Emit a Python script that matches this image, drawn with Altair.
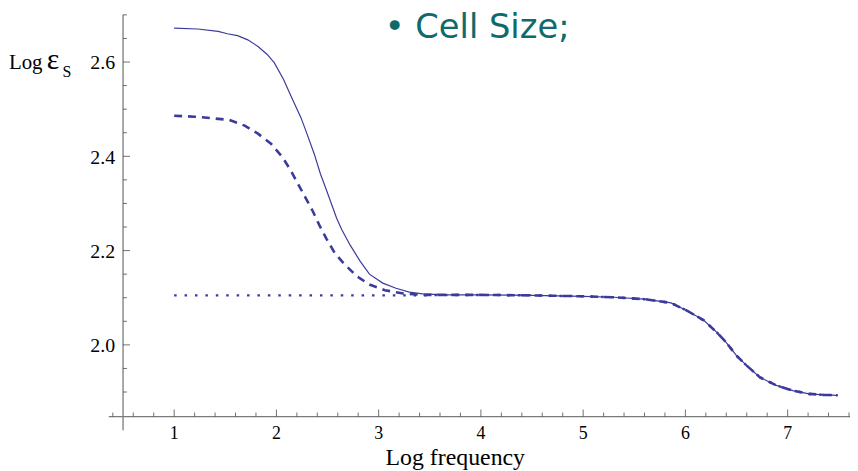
import altair as alt
import pandas as pd

# ---- data ----
freq_solid = [1.0, 1.23, 1.43, 1.52, 1.62, 1.72, 1.82, 1.91, 1.98, 2.07, 2.15, 2.24, 2.30,
              2.37, 2.43, 2.49, 2.59, 2.64, 2.72, 2.82, 2.91, 3.04, 3.17, 3.30, 3.43]
eps_solid = [2.672, 2.670, 2.665, 2.660, 2.656, 2.647, 2.633, 2.616, 2.598, 2.563, 2.524, 2.482, 2.447,
             2.405, 2.363, 2.328, 2.268, 2.244, 2.212, 2.177, 2.150, 2.131, 2.120, 2.112, 2.108]

freq_dashed = [1.0, 1.20, 1.36, 1.54, 1.69, 1.82, 1.95, 2.06, 2.14, 2.21, 2.28, 2.35, 2.42,
               2.49, 2.57, 2.67, 2.79, 2.91, 3.06, 3.24, 3.43]
eps_dashed = [2.486, 2.484, 2.481, 2.477, 2.465, 2.448, 2.426, 2.398, 2.370, 2.342, 2.314, 2.286, 2.254,
              2.225, 2.195, 2.170, 2.145, 2.128, 2.116, 2.109, 2.106]

freq_dotted = [1.0, 2.0, 3.0, 3.43]
eps_dotted = [2.105, 2.105, 2.105, 2.105]

freq_tail = [3.66, 4.0, 4.5, 5.0, 5.3, 5.6, 5.86, 6.02, 6.18, 6.31, 6.40, 6.50, 6.60, 6.73,
             6.89, 7.05, 7.21, 7.35, 7.49]
eps_tail = [2.106, 2.106, 2.105, 2.103, 2.101, 2.097, 2.089, 2.072, 2.052, 2.026, 2.005, 1.977, 1.956, 1.931,
            1.914, 1.903, 1.896, 1.894, 1.893]

x_major = [1, 2, 3, 4, 5, 6, 7]
x_labels = ["1", "2", "3", "4", "5", "6", "7"]
x_minor = [0.4, 0.6, 0.8, 1.2, 1.4, 1.6, 1.8, 2.2, 2.4, 2.6, 2.8, 3.2, 3.4, 3.6, 3.8,
           4.2, 4.4, 4.6, 4.8, 5.2, 5.4, 5.6, 5.8, 6.2, 6.4, 6.6, 6.8, 7.2, 7.4, 7.6]
y_major = [2.0, 2.2, 2.4, 2.6]
y_labels = ["2.0", "2.2", "2.4", "2.6"]
y_minor = [1.90, 1.95, 2.05, 2.10, 2.15, 2.25, 2.30, 2.35, 2.45, 2.50, 2.55, 2.65, 2.70]

title_text = "• Cell Size;"
x_title = "Log frequency"

X_MIN, X_MAX = 0.5, 7.61
Y_MIN, Y_MAX = 1.848, 2.70
W, H = 733, 405

LINE = "#3b3b9c"
AXIS = "#7a7a7a"
TICK = "#333333"
SERIF = "Liberation Serif"

def series(name, xs, ys):
    return pd.DataFrame({"f": xs + freq_tail, "e": ys + eps_tail, "s": name})

df = pd.concat([series("solid", freq_solid, eps_solid),
                series("dashed", freq_dashed, eps_dashed),
                series("dotted", freq_dotted, eps_dotted)], ignore_index=True)

xs = alt.Scale(domain=[X_MIN, X_MAX], nice=False, zero=False)
ys = alt.Scale(domain=[Y_MIN, Y_MAX], nice=False, zero=False)

def X(field="f:Q"):
    return alt.X(field, scale=xs, axis=None)

def Y(field="e:Q"):
    return alt.Y(field, scale=ys, axis=None)

base = alt.Chart(df)

solid = base.transform_filter(alt.datum.s == "solid").mark_line(
    color=LINE, strokeWidth=1.2).encode(x=X(), y=Y(), order="f:Q")
dashed = base.transform_filter(alt.datum.s == "dashed").mark_line(
    color=LINE, strokeWidth=2.6, strokeDash=[8, 6]).encode(x=X(), y=Y(), order="f:Q")
dotted = base.transform_filter(alt.datum.s == "dotted").mark_line(
    color=LINE, strokeWidth=2.5, strokeDash=[2.5, 8]).encode(x=X(), y=Y(), order="f:Q")

# axis lines (Mathematica-style, extending past the crossing point)
xline = alt.Chart(pd.DataFrame({"f": [0.36], "f2": [X_MAX], "e": [Y_MIN]})).mark_rule(
    color=AXIS, strokeWidth=1.3).encode(x=X(), x2="f2:Q", y=Y())
yline = alt.Chart(pd.DataFrame({"f": [X_MIN], "e": [1.819], "e2": [Y_MAX]})).mark_rule(
    color=AXIS, strokeWidth=1.3).encode(x=X(), y=Y(), y2="e2:Q")

# inward ticks
xt_major = alt.Chart(pd.DataFrame({"f": x_major, "e": Y_MIN})).mark_tick(
    orient="vertical", size=7, thickness=1, yOffset=-3.5, color=TICK).encode(x=X(), y=Y())
xt_minor = alt.Chart(pd.DataFrame({"f": x_minor, "e": Y_MIN})).mark_tick(
    orient="vertical", size=4, thickness=1, yOffset=-2, color=TICK).encode(x=X(), y=Y())
yt_major = alt.Chart(pd.DataFrame({"f": X_MIN, "e": y_major})).mark_tick(
    orient="horizontal", size=7, thickness=1, xOffset=3.5, color=TICK).encode(x=X(), y=Y())
yt_minor = alt.Chart(pd.DataFrame({"f": X_MIN, "e": y_minor})).mark_tick(
    orient="horizontal", size=4, thickness=1, xOffset=2, color=TICK).encode(x=X(), y=Y())

# tick labels
x_lab = alt.Chart(pd.DataFrame({"f": x_major, "e": Y_MIN, "t": x_labels})).mark_text(
    font=SERIF, fontSize=18, align="center", baseline="alphabetic", dy=23, color="black").encode(
    x=X(), y=Y(), text="t:N")
y_lab = alt.Chart(pd.DataFrame({"f": X_MIN, "e": y_major, "t": y_labels})).mark_text(
    font=SERIF, fontSize=20, align="right", baseline="middle", dx=-8, dy=1.5, color="black").encode(
    x=X(), y=Y(), text="t:N")

one = pd.DataFrame({"t": [0]})
xtitle = alt.Chart(one).mark_text(text=x_title, font=SERIF, fontSize=24, align="center",
                                  baseline="alphabetic", color="black").encode(
    x=alt.value(335), y=alt.value(454))
lbl_log = alt.Chart(one).mark_text(text="Log", font=SERIF, fontSize=21, align="left",
                                   baseline="alphabetic", color="black").encode(
    x=alt.value(-115), y=alt.value(55))
lbl_eps = alt.Chart(one).mark_text(text="ε", font=SERIF, fontSize=30, align="left",
                                   baseline="alphabetic", color="black").encode(
    x=alt.value(-77), y=alt.value(55))
lbl_s = alt.Chart(one).mark_text(text="S", font=SERIF, fontSize=16, align="left",
                                 baseline="alphabetic", color="black").encode(
    x=alt.value(-61), y=alt.value(63))
title = alt.Chart(one).mark_text(text=title_text, font="DejaVu Sans", fontSize=34, align="center",
                                 baseline="alphabetic", color="#0f6b6b").encode(
    x=alt.value(357), y=alt.value(23))

chart = alt.layer(
    solid, dashed, dotted, xline, yline, xt_major, xt_minor, yt_major, yt_minor,
    x_lab, y_lab, xtitle, lbl_log, lbl_eps, lbl_s, title
).properties(
    width=W, height=H,
    autosize=alt.AutoSizeParams(type="none"),
    padding={"left": 116, "top": 5, "right": 0, "bottom": 53},
    background="white",
).configure_view(stroke=None)

chart.save("out.html", embed_options={"renderer": "svg", "actions": False})
